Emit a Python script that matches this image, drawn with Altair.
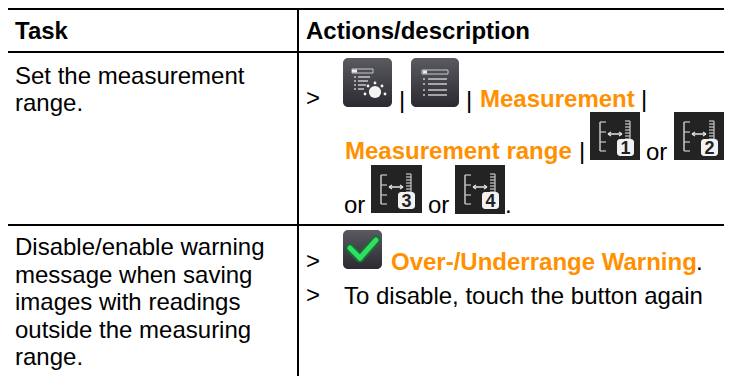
import altair as alt
import pandas as pd

# ---- table text ----
header_text = ["Task", "Actions/description"]
task_lines = ["Set the measurement", "range.", "Disable/enable warning", "message when saving",
              "images with readings", "outside the measuring", "range."]
regular_text = [">", "|", "|", "|", "|", "or", "or", "or", ".", ">", ".", ">",
                "To disable, touch the button again"]
orange_text = ["Measurement", "Measurement range", "Over-/Underrange Warning"]
icon_digits = ["1", "2", "3", "4"]

# ---- layout table (page pixels) ----
header_x, header_y = [15, 306], [39, 39]
task_x = [15] * 7
task_y = [84, 111, 255, 283, 310, 338, 365]
regular_x = [306, 399, 466, 641, 579, 646, 344, 428, 505, 306, 696, 306, 344]
regular_y = [106, 108, 108, 107, 159, 160, 213, 213, 213, 269, 270, 303, 304]
orange_x = [480, 345, 391]
orange_y = [107, 159, 270]
X0, X1, Y0, Y1 = 8, 724, 8, 376

rows = [
    (6, 732, 9, 9, "#000", 2), (6, 732, 52, 52, "#000", 2), (6, 732, 225, 225, "#000", 2),
    (298, 298, 8, 376, "#000", 2),
]
boxes_dark = [(343, 392, 58, 107), (411, 459, 58, 107), (343, 382, 230, 269)]
boxes_flat = [(590, 640, 112, 160), (674, 724, 112, 160), (371, 422, 165, 213), (455, 505, 165, 214)]

segs = list(rows)
light = "#c9c9cc"
# first menu icon
segs += [(352, 373, 69, 69, light, 1), (352, 373, 73, 73, light, 1), (352, 352, 69, 73, light, 1),
         (373, 373, 69, 73, light, 1), (352, 357, 71, 71, "#eee", 3)]
for y, xe in [(77, 370), (81, 368), (85, 366), (89, 364)]:
    segs += [(354, 356, y, y, light, 1.5), (358, xe, y, y, light, 1.5)]
# second menu icon
segs += [(422, 448, 70, 70, light, 1), (422, 448, 74, 74, light, 1), (422, 422, 70, 74, light, 1),
         (448, 448, 70, 74, light, 1), (423, 427, 72, 72, "#eee", 3)]
for y in [79, 84, 90, 95]:
    segs += [(423, 425, y, y, light, 1.5), (428, 447, y, y, light, 1.5)]
# range icons
number_boxes = []
digit_x, digit_y = [], []
for (x0, x1, y0, y1) in boxes_flat:
    segs += [(x0 + 10, x0 + 10, y0 + 10, y0 + 39, light, 1.5)]
    for dy in [10, 20, 30, 39]:
        segs += [(x0 + 10, x0 + 16, y0 + dy, y0 + dy, light, 1.2)]
    segs += [(x0 + 18, x0 + 32, y0 + 22, y0 + 22, "#e6e6e6", 1.5),
             (x0 + 18, x0 + 21, y0 + 22, y0 + 20, "#e6e6e6", 1.2), (x0 + 18, x0 + 21, y0 + 22, y0 + 24, "#e6e6e6", 1.2),
             (x0 + 32, x0 + 29, y0 + 22, y0 + 20, "#e6e6e6", 1.2), (x0 + 32, x0 + 29, y0 + 22, y0 + 24, "#e6e6e6", 1.2),
             (x0 + 40, x0 + 40, y0 + 9, y0 + 30, light, 1.2)]
    for dy in range(9, 30, 3):
        segs += [(x0 + 35, x0 + 40, y0 + dy, y0 + dy, light, 1.2)]
    number_boxes.append((x0 + 27, x0 + 44, y0 + 27, y0 + 44))
    digit_x.append(x0 + 35.5)
    digit_y.append(y0 + 41.5)
# check mark
check_glow = [(350, 360, 248, 258, "#1f6b3a", 9), (360, 376, 258, 240, "#1f6b3a", 9)]
check = [(350, 360, 248, 258, "#2ee05f", 5), (360, 376, 258, 240, "#2ee05f", 5)]

knob_x, knob_y, knob_s = [375] + [365, 368, 375, 382, 385], [92] + [94, 86, 83, 86, 94], [150] + [8] * 5

sx = alt.X("x:Q", scale=alt.Scale(domain=[X0, X1], nice=False, zero=False), axis=None)
sy = alt.Y("y:Q", scale=alt.Scale(domain=[Y1, Y0], nice=False, zero=False), axis=None)


def seg_layer(items, cap="butt"):
    df = pd.DataFrame(items, columns=["x", "x2", "y", "y2", "c", "w"])
    df["x"] = df["x"].clip(lower=X0, upper=X1)
    df["x2"] = df["x2"].clip(lower=X0, upper=X1)
    df["y"] = df["y"].clip(lower=Y0, upper=Y1)
    df["y2"] = df["y2"].clip(lower=Y0, upper=Y1)
    return alt.Chart(df).mark_rule(strokeCap=cap).encode(
        x=sx, x2="x2:Q", y=sy, y2="y2:Q",
        color=alt.Color("c:N", scale=None), strokeWidth=alt.StrokeWidth("w:Q", scale=None))


def box_layer(items, **mark):
    df = pd.DataFrame(items, columns=["x", "x2", "y", "y2"])
    return alt.Chart(df).mark_rect(**mark).encode(x=sx, x2="x2:Q", y=sy, y2="y2:Q")


def text_layer(xs, ys, texts, **mark):
    df = pd.DataFrame({"x": xs, "y": ys, "t": texts})
    base = dict(font="Liberation Sans", fontSize=24, align="left", baseline="alphabetic")
    base.update(mark)
    return alt.Chart(df).mark_text(**base).encode(x=sx, y=sy, text="t:N")


grad = alt.Gradient(gradient="linear", x1=0, x2=0, y1=0, y2=1,
                    stops=[alt.GradientStop(color="#5a5b60", offset=0),
                           alt.GradientStop(color="#2a2a30", offset=1)])

chart = alt.layer(
    box_layer(boxes_dark, color=grad, cornerRadius=5),
    box_layer(boxes_flat, color="#232323"),
    seg_layer(segs),
    seg_layer(check_glow, "round"),
    seg_layer(check, "round"),
    box_layer(number_boxes, color="#f2f2f2", cornerRadius=3),
    alt.Chart(pd.DataFrame({"x": knob_x, "y": knob_y, "s": knob_s})).mark_circle(color="#f4f4f4", opacity=1).encode(
        x=sx, y=sy, size=alt.Size("s:Q", scale=None)),
    text_layer(digit_x, digit_y, icon_digits, fontSize=18, fontWeight="bold", align="center", color="#222"),
    text_layer(header_x, header_y, header_text, fontWeight="bold", color="#000"),
    text_layer(task_x, task_y, task_lines, color="#000"),
    text_layer(regular_x, regular_y, regular_text, color="#000"),
    text_layer(orange_x, orange_y, orange_text, fontWeight="bold", color="#ff9000"),
).properties(width=716, height=368, padding=0, autosize=alt.AutoSizeParams(type="none")).configure_view(stroke=None)

chart.save("out.html", embed_options={"renderer": "svg", "actions": False})
